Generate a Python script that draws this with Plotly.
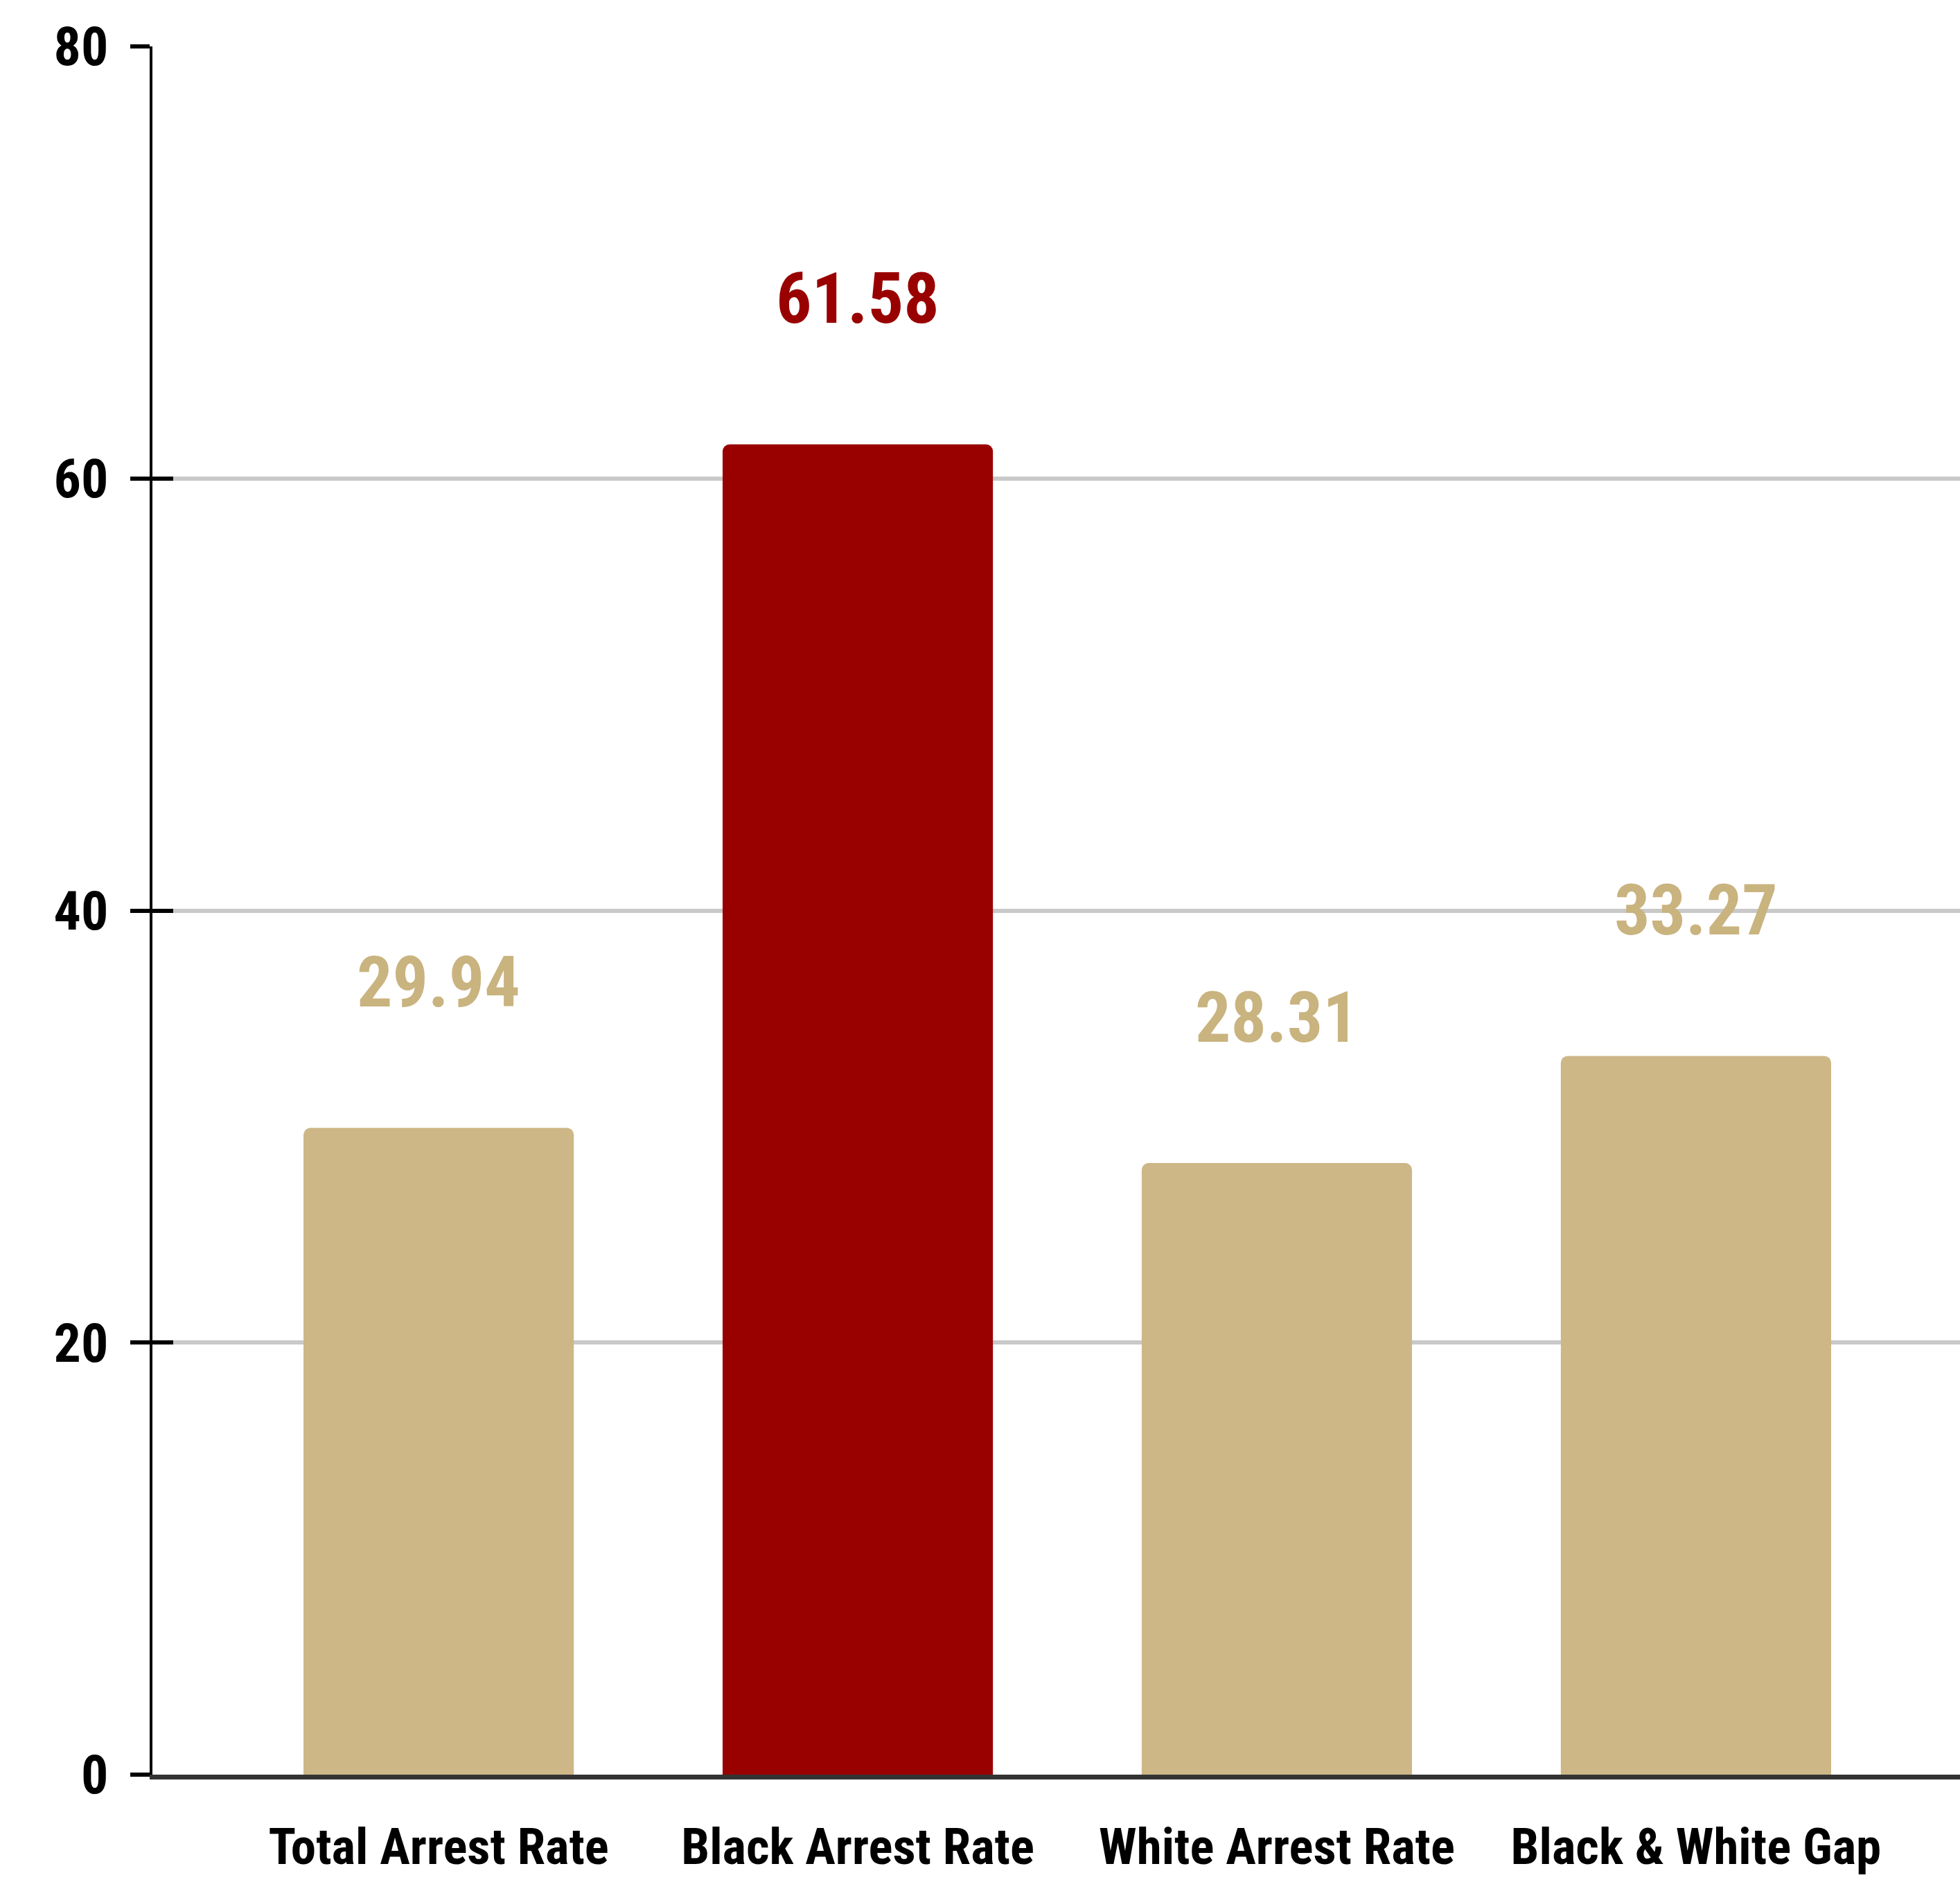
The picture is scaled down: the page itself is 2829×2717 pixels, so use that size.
import plotly.graph_objects as go

categories = ["Total Arrest Rate", "Black Arrest Rate", "White Arrest Rate", "Black & White Gap"]
values = [29.94, 61.58, 28.31, 33.27]
bar_colors = ["#CDB787", "#990000", "#CDB787", "#CDB787"]
label_colors = ["#C9B37F", "#990000", "#C9B37F", "#C9B37F"]
y_ticks = [0, 20, 40, 60, 80]

FONT = "Roboto Condensed, Liberation Sans Narrow, DejaVu Sans Condensed, sans-serif"

xpos = list(range(len(categories)))

fig = go.Figure()
fig.add_trace(go.Bar(
    x=xpos, y=values,
    marker=dict(color=bar_colors, line=dict(width=0), cornerradius=10),
    width=0.645, hoverinfo="skip", showlegend=False,
))
# empty trace so the overlay axis (inside tick marks) is drawn
fig.add_trace(go.Scatter(x=[None], y=[None], yaxis="y2", mode="markers",
                         showlegend=False, hoverinfo="skip"))

for xi, v, col in zip(xpos, values, label_colors):
    fig.add_annotation(
        x=xi, y=v, text=f"<b>{v:.2f}</b>", showarrow=False,
        yanchor="middle", yshift=210,
        font=dict(family=FONT, size=102, color=col),
    )

fig.update_layout(
    width=2829, height=2717,
    margin=dict(l=220, r=0, t=67, b=155, pad=0),
    paper_bgcolor="white", plot_bgcolor="white",
    font=dict(family=FONT, color="black"),
    xaxis=dict(
        range=[-0.683, 3.63], showgrid=False, zeroline=False,
        showline=True, linecolor="#333333", linewidth=7,
        ticks="", tickangle=0, automargin=False,
        tickvals=xpos, ticktext=[f"<b>{c}</b>" for c in categories],
        tickfont=dict(family=FONT, size=73, color="black"),
        ticklabelstandoff=34,
    ),
    yaxis=dict(
        range=[0, 80], tickvals=y_ticks, ticktext=[f"<b>{t}</b>" for t in y_ticks],
        showgrid=True, gridcolor="#C9C9C9", gridwidth=6,
        zeroline=False, showline=True, linecolor="black", linewidth=4,
        ticks="outside", ticklen=28, tickwidth=6, tickcolor="black",
        tickfont=dict(family=FONT, size=78, color="black"),
        ticklabelstandoff=16, automargin=False,
    ),
    yaxis2=dict(
        range=[0, 80], overlaying="y", side="left", tickvals=y_ticks,
        showgrid=False, zeroline=False, showline=False, showticklabels=False,
        ticks="inside", ticklen=30, tickwidth=6, tickcolor="black",
    ),
)

fig.write_html("out.html")
